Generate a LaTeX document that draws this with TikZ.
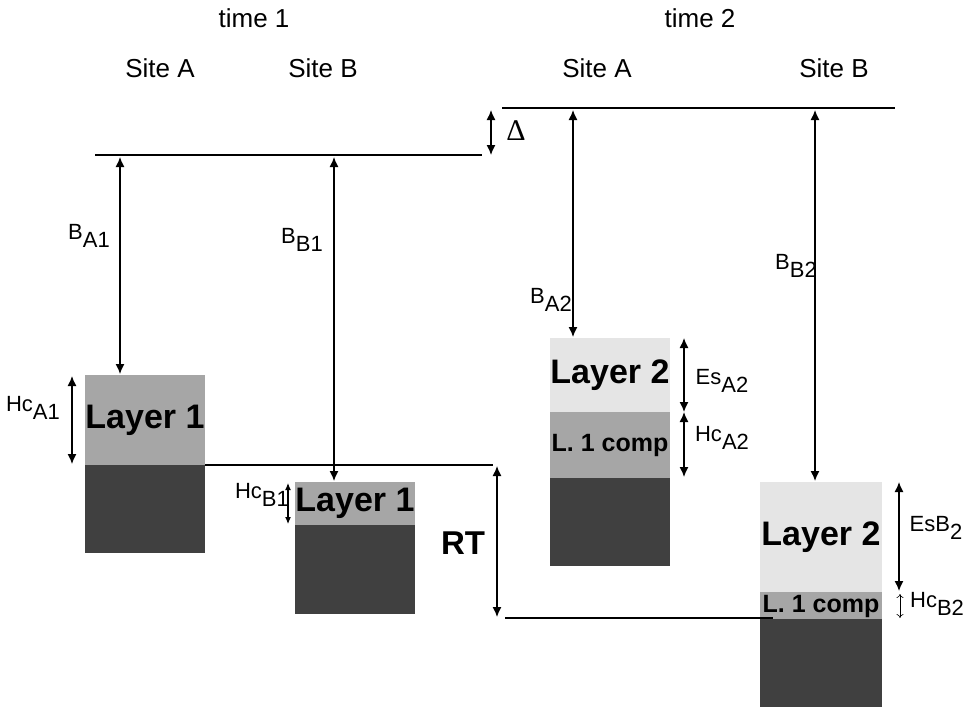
\documentclass[tikz,border=0pt]{standalone}
\usepackage{fontspec}
\setmainfont{Liberation Sans}
\newfontfamily\serifdelta{Liberation Serif}
\usetikzlibrary{arrows.meta}
\newcommand{\sbl}[2]{#1\raisebox{-0.36em}{#2}}
\begin{document}
\begin{tikzpicture}[x=1pt,y=-1pt,
  every node/.style={inner sep=0pt, outer sep=0pt},
  box/.style={anchor=north west, draw=none, font=\fontsize{34}{34}\selectfont\bfseries},
  midgray/.style={fill=black!35},
  darkgray/.style={fill=black!75},
  lightgray/.style={fill=black!10},
  lvl/.style={line width=1.3pt},
  dim/.style={line width=1.3pt, {Latex[length=10pt,width=9pt]}-{Latex[length=10pt,width=9pt]}},
  thindim/.style={line width=0.6pt, {To[length=4pt,width=7pt]}-{To[length=4pt,width=7pt]}},
  hdr/.style={font=\fontsize{26}{26}\selectfont},
  lab/.style={font=\fontsize{22}{22}\selectfont},
  comp/.style={font=\fontsize{25}{25}\selectfont\bfseries}
]
\useasboundingbox (0,0) rectangle (965,707);

% headers
\node[hdr] (t1) at (254,18) {time 1};
\node[hdr] (t2) at (700,18) {time 2};
\node[hdr] (sa1) at (160,68) {Site A};
\node[hdr] (sb1) at (323,68) {Site B};
\node[hdr] (sa2) at (597,68) {Site A};
\node[hdr] (sb2) at (834,68) {Site B};

% boxes site A time 1
\node[box, midgray, minimum width=120pt, minimum height=90pt] (A1l) at (85,375) {Layer 1};
\node[box, darkgray, minimum width=120pt, minimum height=88pt] (A1d) at (85,465) {};
% site B time 1
\node[box, midgray, minimum width=120pt, minimum height=43pt] (B1l) at (295,482) {Layer 1};
\node[box, darkgray, minimum width=120pt, minimum height=89pt] (B1d) at (295,525) {};
% site A time 2
\node[box, lightgray, minimum width=120pt, minimum height=74pt] (A2l) at (550,338) {Layer 2};
\node[box, midgray, comp, minimum width=120pt, minimum height=66pt] (A2c) at (550,412) {L. 1 comp};
\node[box, darkgray, minimum width=120pt, minimum height=88pt] (A2d) at (550,478) {};
% site B time 2
\node[box, lightgray, minimum width=122pt, minimum height=110pt] (B2l) at (760,482) {Layer 2};
\node[box, darkgray, minimum width=122pt, minimum height=88pt] (B2d) at (760,619) {};
\node[box, midgray, minimum width=122pt, minimum height=27pt] (B2c) at (760,592) {};
\node[comp] (B2ct) at (821,606) {L. 1 comp};

% level lines
\coordinate (L1a) at (95,155);
\coordinate (L1b) at (482,155);
\coordinate (L2a) at (502,108);
\coordinate (L2b) at (895,108);
\coordinate (RTa) at (493,465);
\coordinate (BTa) at (505,618);
\coordinate (BTb) at (773,618);
\draw[lvl] (L1a) -- (L1b);
\draw[lvl] (L2a) -- (L2b);
\draw[lvl] (A1l.south east) -- (RTa);
\draw[lvl] (BTa) -- (BTb);

% dimension arrows
\coordinate (dT) at (491,110); \coordinate (dB) at (491,155);
\draw[dim] (dT) -- (dB);
\node[font=\fontsize{30}{30}\serifdelta] (delta) at (516,131) {Δ};

\coordinate (ba1t) at (120,157); \coordinate (ba1b) at (120,374);
\draw[dim] (ba1t) -- (ba1b);
\coordinate (bb1t) at (334,157); \coordinate (bb1b) at (334,481);
\draw[dim] (bb1t) -- (bb1b);
\coordinate (ba2t) at (573,110); \coordinate (ba2b) at (573,337);
\draw[dim] (ba2t) -- (ba2b);
\coordinate (bb2t) at (815,110); \coordinate (bb2b) at (815,481);
\draw[dim] (bb2t) -- (bb2b);

\coordinate (ha1t) at (72,376); \coordinate (ha1b) at (72,464);
\draw[dim] (ha1t) -- (ha1b);
\coordinate (hb1t) at (288,483); \coordinate (hb1b) at (288,524);
\draw[line width=1.1pt, {Latex[length=7pt,width=6pt]}-{Latex[length=7pt,width=6pt]}] (hb1t) -- (hb1b);
\coordinate (rtt) at (497,466); \coordinate (rtb) at (497,617);
\draw[dim] (rtt) -- (rtb);
\coordinate (ea2t) at (684,338); \coordinate (ea2b) at (684,412);
\draw[dim] (ea2t) -- (ea2b);
\coordinate (ha2t) at (684,412); \coordinate (ha2b) at (684,477);
\draw[dim] (ha2t) -- (ha2b);
\coordinate (eb2t) at (899,482); \coordinate (eb2b) at (899,591);
\draw[dim] (eb2t) -- (eb2b);
\coordinate (hb2t) at (900,594); \coordinate (hb2b) at (900,618);
\draw[thindim] (hb2t) -- (hb2b);

% labels
\node[lab] (lba1) at (89,236) {\sbl{B}{A1}};
\node[lab] (lbb1) at (302,240) {\sbl{B}{B1}};
\node[lab] (lba2) at (551,300) {\sbl{B}{A2}};
\node[lab] (lbb2) at (796,266) {\sbl{B}{B2}};
\node[lab] (lha1) at (33,408) {\sbl{Hc}{A1}};
\node[lab] (lhb1) at (262,495) {\sbl{Hc}{B1}};
\node[lab] (lea2) at (722,381) {\sbl{Es}{A2}};
\node[lab] (lha2) at (722,438) {\sbl{Hc}{A2}};
\node[lab] (leb2) at (936,528) {\sbl{EsB}{2}};
\node[lab] (lhb2) at (937,604) {\sbl{Hc}{B2}};
\node[font=\fontsize{33}{33}\selectfont\bfseries] (rt) at (463,543) {RT};
\end{tikzpicture}
\end{document}
